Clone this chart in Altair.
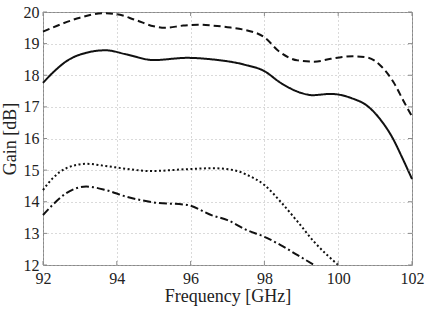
import altair as alt
import pandas as pd

# Gain curves (frequency in GHz, gain in dB)
freq_a = [92.0, 92.5, 93.0, 93.6, 94.0, 94.5, 95.0, 95.3, 95.8, 96.2, 96.6, 97.0,
          97.4, 98.0, 98.4, 98.9, 99.35, 99.8, 100.4, 100.8, 101.15, 101.5, 101.8, 102.0]
gain_a = [19.38, 19.62, 19.82, 19.96, 19.93, 19.75, 19.55, 19.5, 19.57, 19.6, 19.57, 19.52,
          19.45, 19.2, 18.75, 18.47, 18.43, 18.52, 18.6, 18.56, 18.3, 17.78, 17.12, 16.7]

freq_b = [92.0, 92.3, 92.63, 93.17, 93.7, 94.26, 95.0, 95.9, 96.6, 97.44, 98.0,
          98.44, 99.0, 99.3, 99.8, 100.35, 100.8, 101.15, 101.5, 101.7, 102.0]
gain_b = [17.76, 18.12, 18.44, 18.71, 18.79, 18.66, 18.48, 18.55, 18.5, 18.34, 18.13,
          17.76, 17.44, 17.37, 17.41, 17.28, 17.02, 16.59, 15.96, 15.48, 14.72]

freq_c = [92.0, 92.26, 92.63, 93.17, 93.7, 94.26, 94.9, 95.9, 96.6, 97.17, 97.53,
          98.0, 98.44, 98.9, 99.35, 100.0]
gain_c = [14.37, 14.74, 15.06, 15.2, 15.13, 15.04, 14.97, 15.03, 15.06, 15.0, 14.85,
          14.53, 14.0, 13.37, 12.73, 12.0]

freq_d = [92.0, 92.26, 92.63, 93.17, 93.7, 94.26, 95.0, 95.9, 96.6, 97.0, 97.53,
          98.0, 98.44, 98.9, 99.35]
gain_d = [13.58, 13.9, 14.27, 14.48, 14.37, 14.16, 13.98, 13.9, 13.56, 13.42, 13.1,
          12.89, 12.63, 12.31, 12.0]

x_ticks = [92, 94, 96, 98, 100, 102]
y_ticks = [12, 13, 14, 15, 16, 17, 18, 19, 20]

series = ["a", "b", "c", "d"]
dashes = [[7, 4], [1, 0], [2, 2.5], [8, 3, 2, 3]]

rows = []
for name, fx, gy in zip(series, [freq_a, freq_b, freq_c, freq_d],
                        [gain_a, gain_b, gain_c, gain_d]):
    for f, g in zip(fx, gy):
        rows.append({"series": name, "freq": f, "gain": g})
df = pd.DataFrame(rows)

W, H = 369, 253
FRAME = "#8a8a8a"
FONT = "Liberation Serif"
TEXT = "#222222"

x_scale = alt.Scale(domain=[92, 102], nice=False, zero=False)
y_scale = alt.Scale(domain=[12, 20], nice=False, zero=False)
axis_style = dict(
    domain=False, ticks=False, grid=True,
    gridColor="#b5b5b5", gridDash=[1, 3], gridWidth=1,
    labelFont=FONT, labelFontSize=16, labelColor=TEXT,
    titleFont=FONT, titleFontSize=18, titleFontWeight="normal", titleColor=TEXT,
    labelOverlap=False, labelFlush=False,
)
x_axis = alt.Axis(values=x_ticks, title="Frequency [GHz]", labelPadding=5,
                  titlePadding=1, **axis_style)
y_axis = alt.Axis(values=y_ticks, title="Gain [dB]", labelPadding=4,
                  titlePadding=4, **axis_style)

X = alt.X("freq:Q", scale=x_scale, axis=x_axis)
Y = alt.Y("gain:Q", scale=y_scale, axis=y_axis)

lines = alt.Chart(df).mark_line(strokeWidth=2, interpolate="monotone", color="#111").encode(
    x=X,
    y=Y,
    strokeDash=alt.StrokeDash("series:N", scale=alt.Scale(domain=series, range=dashes),
                              legend=None),
    detail="series:N",
)

# short inward tick marks on all four sides of the frame
xt = pd.DataFrame({"freq": x_ticks})
yt = pd.DataFrame({"gain": y_ticks})

tick_l = alt.Chart(yt).mark_rule(color=FRAME).encode(y=Y, x=alt.value(0), x2=alt.value(4))
tick_r = alt.Chart(yt).mark_rule(color=FRAME).encode(y=Y, x=alt.value(W - 4), x2=alt.value(W))
tick_b = alt.Chart(xt).mark_rule(color=FRAME).encode(x=X, y=alt.value(H), y2=alt.value(H - 4))
tick_t = alt.Chart(xt).mark_rule(color=FRAME).encode(x=X, y=alt.value(0), y2=alt.value(4))

chart = alt.layer(lines, tick_l, tick_r, tick_b, tick_t).properties(
    width=W, height=H,
    autosize=alt.AutoSizeParams(type="none"),
    padding={"left": 43, "top": 12, "right": 16, "bottom": 45},
).configure_view(
    stroke=FRAME, strokeWidth=1
)

chart.save("out.html", embed_options={"renderer": "svg", "actions": False})
